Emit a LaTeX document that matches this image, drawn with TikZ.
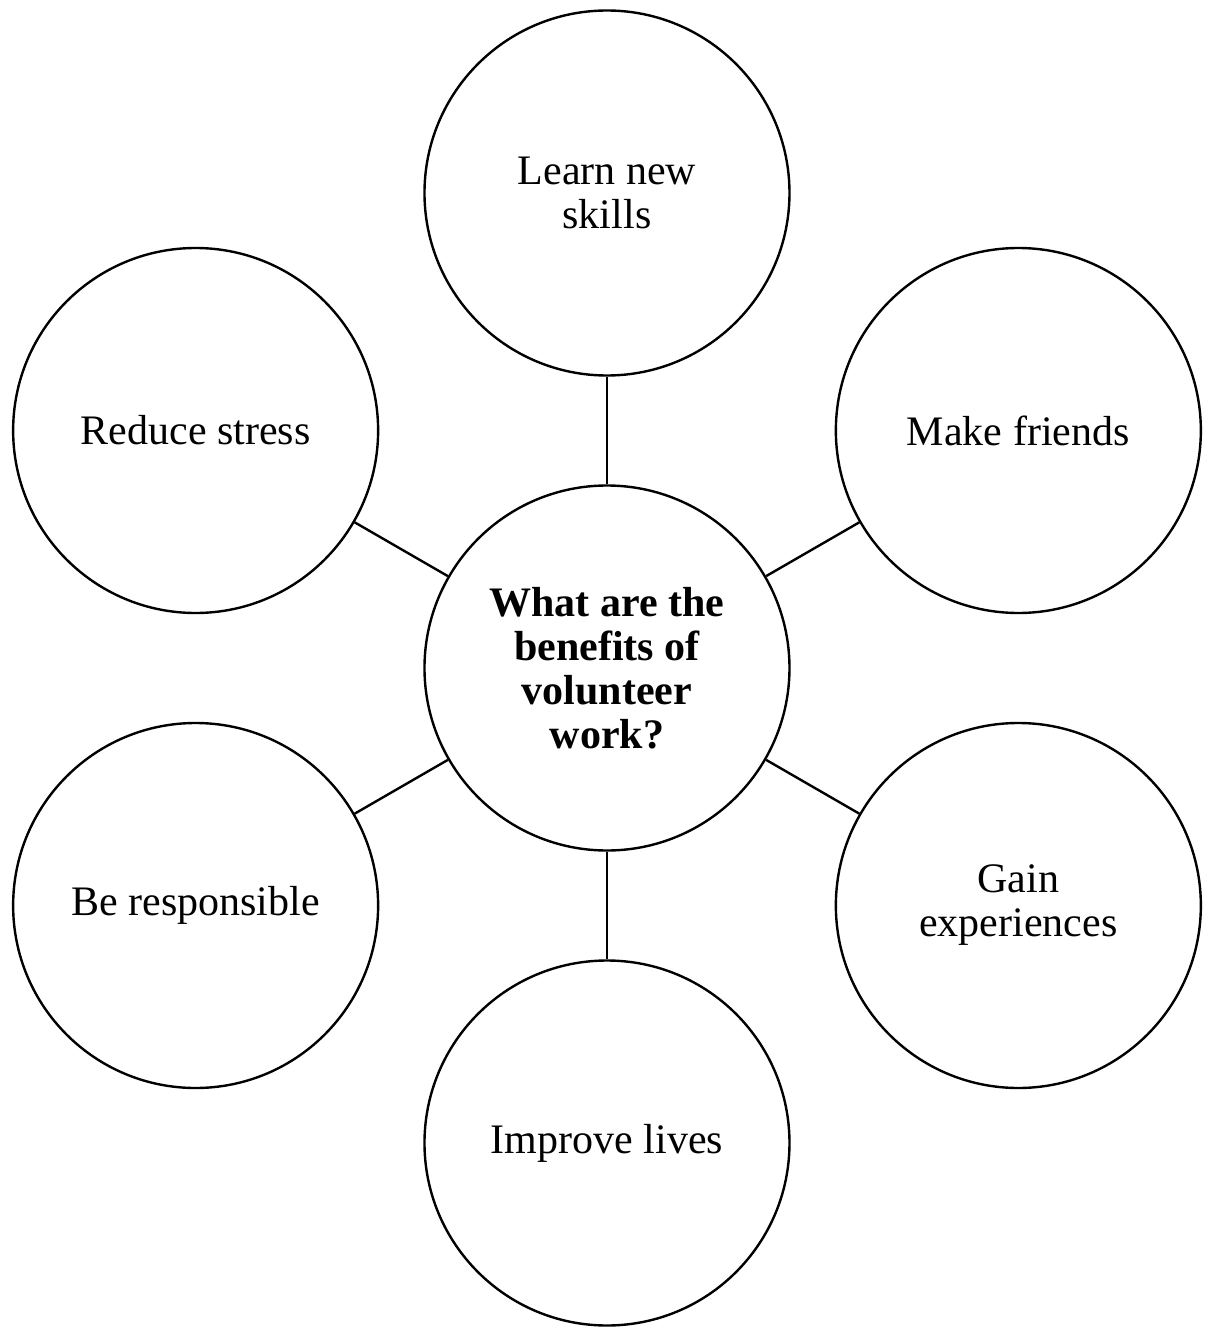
\documentclass[tikz,border=0pt]{standalone}
\usepackage{fontspec}
\setmainfont{Liberation Serif}
\usepackage{tikz}
\usetikzlibrary{positioning, calc}

\begin{document}
\begin{tikzpicture}[
    x=0.5pt, y=0.5pt,
    hub/.style={circle, draw=black, line width=1.2pt, minimum size=182.5pt, inner sep=0pt, align=center, font=\fontsize{21}{22}\selectfont\bfseries},
    benefit/.style={circle, draw=black, line width=1.2pt, minimum size=182.5pt, inner sep=0pt, align=center, font=\fontsize{21}{22}\selectfont},
    link/.style={line width=1.2pt, color=black}
]
    \useasboundingbox (-607,-661) rectangle (598,668);

    % Centro
    \node[hub] (q) at (0,0) {What are the\\benefits of\\volunteer\\work?};

    % Beneficios
    \node[benefit] (learn) at (90:475) {Learn new\\skills};
    \node[benefit] (friends) at (30:475) {Make friends};
    \node[benefit] (gain) at (-30:475) {Gain\\experiences};
    \node[benefit] (improve) at (-90:475) {Improve lives};
    \node[benefit] (resp) at (210:475) {Be responsible};
    \node[benefit] (stress) at (150:475) {Reduce stress};

    % Linhas
    \draw[link] (q) -- (learn);
    \draw[link] (q) -- (friends);
    \draw[link] (q) -- (gain);
    \draw[link] (q) -- (improve);
    \draw[link] (q) -- (resp);
    \draw[link] (q) -- (stress);
\end{tikzpicture}
\end{document}
